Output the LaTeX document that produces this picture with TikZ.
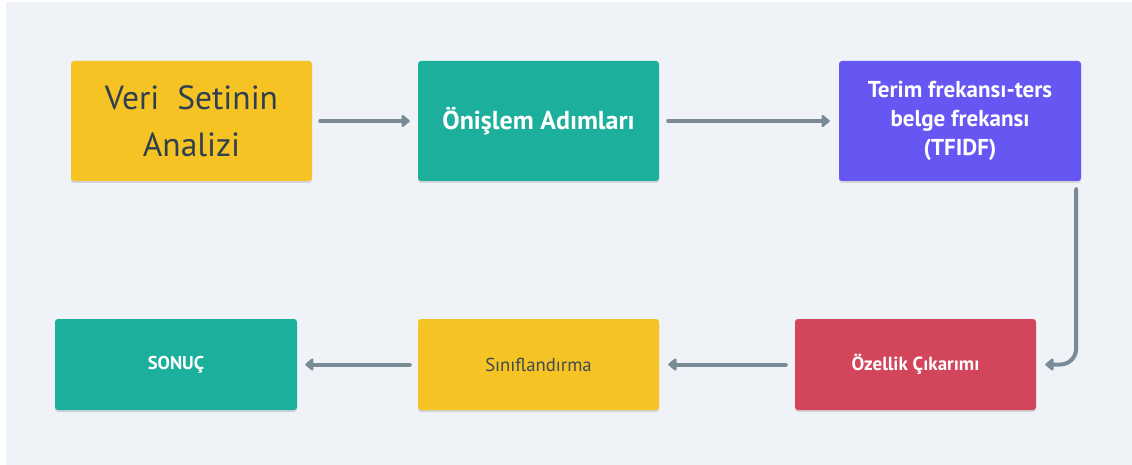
\documentclass[tikz,border=0pt]{standalone}
\usepackage{fontspec}
\setmainfont{PT Sans}
\usetikzlibrary{arrows.meta,shadows}
\definecolor{bg}{HTML}{EFF3F7}
\definecolor{cyellow}{HTML}{F6C325}
\definecolor{cteal}{HTML}{1BAF9C}
\definecolor{cpurple}{HTML}{6657F2}
\definecolor{cred}{HTML}{D3455B}
\definecolor{carrow}{HTML}{7B8A97}
\definecolor{cdark}{HTML}{2E3F4F}
\definecolor{cdarkgray}{HTML}{3F4A52}
\tikzset{
  box/.style={rounded corners=3pt, inner sep=0pt, align=center,
    drop shadow={shadow xshift=0pt, shadow yshift=-2pt, opacity=0.12, fill=black}},
  toprow/.style={box, minimum height=120pt},
  botrow/.style={box, minimum height=91pt},
  arr/.style={draw=carrow, line width=4pt, line cap=round,
    -{Triangle[round, length=9pt, width=14pt]}},
}
\begin{document}
\begin{tikzpicture}[x=1pt,y=-1pt]
\useasboundingbox (0,0) rectangle (1132,465);
\fill[white] (0,0) rectangle (1132,465);
\fill[bg] (6,2) rectangle (1132,465);
\node[toprow, fill=cyellow, minimum width=241pt, text=cdark, font=\fontsize{33.5}{47}\selectfont] (b1) at (191.5,121) {Veri\ \ Setinin\\Analizi};
\node[toprow, fill=cteal, minimum width=241pt, text=white, font=\bfseries\fontsize{26}{30}\selectfont] (b2) at (538.5,121) {Önişlem Adımları};
\node[toprow, fill=cpurple, minimum width=242pt, text=white, font=\bfseries\fontsize{23}{29}\selectfont] (b3) at (960,121) {Terim frekansı-ters\\belge frekansı\\(TFIDF)};
\node[botrow, fill=cred, minimum width=241pt, text=white, font=\bfseries\fontsize{19}{22}\selectfont] (b4) at (915.5,364.5) {Özellik Çıkarımı};
\node[botrow, fill=cyellow, minimum width=241pt, text=cdarkgray, font=\fontsize{18.7}{22}\selectfont] (b5) at (538.5,364.5) {Sınıflandırma};
\node[botrow, fill=cteal, minimum width=242pt, text=white, font=\bfseries\fontsize{18.5}{22}\selectfont] (b6) at (176,364.5) {SONUÇ};
\draw[arr] ([xshift=8pt]b1.east) -- ([xshift=-8pt]b2.west);
\draw[arr] ([xshift=9pt]b2.east) -- ([xshift=-9pt]b3.west);
\draw[arr, rounded corners=16pt] ([xshift=-5pt,yshift=-8pt]b3.south east) |- ([xshift=9pt]b4.east);
\draw[arr] ([xshift=-9pt]b4.west) -- ([xshift=9pt]b5.east);
\draw[arr] ([xshift=-8pt]b5.west) -- ([xshift=8pt]b6.east);
\end{tikzpicture}
\end{document}
